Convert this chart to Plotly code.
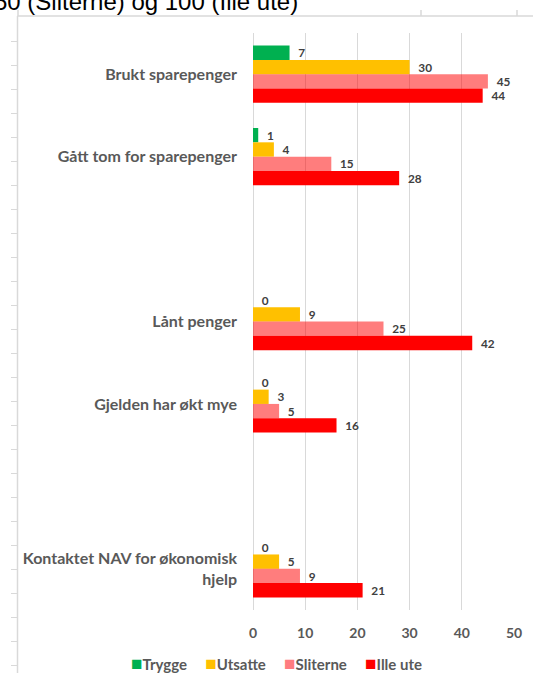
import plotly.graph_objects as go

categories = ["Brukt sparepenger", "Gått tom for sparepenger", " ", "Lånt penger",
              "Gjelden har økt mye", "  ", "Kontaktet NAV for økonomisk<br>hjelp"]
series_names = ["Trygge", "Utsatte", "Sliterne", "Ille ute"]
trygge = [7, 1, None, 0, 0, None, 0]
utsatte = [30, 4, None, 9, 3, None, 5]
sliterne = [45, 15, None, 25, 5, None, 9]
ille_ute = [44, 28, None, 42, 16, None, 21]
x_ticks = [0, 10, 20, 30, 40, 50]
colors = ["#00B050", "#FFC000", "rgba(255,0,0,0.51)", "#FF0000"]
legend_colors = ["#00B050", "#FFC000", "#FF7C80", "#FF0000"]

W, H = 533, 673
ML, MR, MT, MB = 253, 19, 33, 63
PW, PH = W - ML - MR, H - MT - MB


def px_x(px):
    return (px - ML) / PW


def px_y(py):
    return 1 - (py - MT) / PH


fig = go.Figure()
for name, vals, col in zip(series_names, [trygge, utsatte, sliterne, ille_ute], colors):
    fig.add_trace(go.Bar(
        y=categories, x=vals, name=name, orientation="h",
        marker=dict(color=col, line=dict(width=0)),
        text=vals, texttemplate="  %{x}", textposition="outside",
        textfont=dict(family="Lato", size=14, color="#404040", weight="bold"),
        cliponaxis=False, showlegend=False,
    ))

fig.update_layout(
    width=W, height=H, margin=dict(l=ML, r=MR, t=MT, b=MB),
    paper_bgcolor="white", plot_bgcolor="white",
    barmode="group", bargap=0.305, bargroupgap=0,
    font=dict(family="Lato", color="#595959"),
    xaxis=dict(range=[0, 50], tickvals=x_ticks, showgrid=True, gridcolor="#D9D9D9",
               gridwidth=1, zeroline=True, zerolinecolor="#D9D9D9", zerolinewidth=1,
               showline=False, ticks="", ticklabelstandoff=13,
               tickfont=dict(family="Lato", size=14, color="#595959", weight="bold")),
    yaxis=dict(categoryorder="array", categoryarray=categories, autorange="reversed",
               showgrid=False, zeroline=False, showline=False, ticks="",
               ticklabelstandoff=15,
               tickfont=dict(family="Lato", size=16, color="#595959", weight="bold")),
)

# decorative frame (sheet edge) lines
shapes = []
fx = 17.5
shapes.append(dict(type="line", xref="paper", yref="paper",
                   x0=px_x(fx), x1=px_x(W + 2), y0=px_y(16), y1=px_y(16),
                   line=dict(color="#D9D9D9", width=1.5)))
shapes.append(dict(type="line", xref="paper", yref="paper",
                   x0=px_x(fx), x1=px_x(fx), y0=px_y(H + 2), y1=px_y(16),
                   line=dict(color="#D9D9D9", width=1.5)))
for k in range(27):
    py = 41.5 + 24 * k
    shapes.append(dict(type="line", xref="paper", yref="paper",
                       x0=px_x(11), x1=px_x(fx), y0=px_y(py), y1=px_y(py),
                       line=dict(color="#D9D9D9", width=1)))
for pxv in [18, 421, 517]:
    shapes.append(dict(type="line", xref="paper", yref="paper",
                       x0=px_x(pxv), x1=px_x(pxv), y0=px_y(10), y1=px_y(16),
                       line=dict(color="#D9D9D9", width=1.5)))
fig.update_layout(shapes=shapes)

# cut-off heading text
fig.add_annotation(text="50 (Sliterne) og 100 (Ille ute)", xref="paper", yref="paper",
                   x=px_x(-8), xanchor="left", y=px_y(1), yanchor="middle",
                   showarrow=False, font=dict(family="Liberation Sans", size=24, color="#000000"))

# legend
parts = []
for name, col in zip(series_names, legend_colors):
    parts.append(f"<span style='color:{col};font-size:19px'>■</span>{name}")
fig.add_annotation(text="&nbsp;&nbsp;&nbsp;&nbsp;&nbsp;".join(parts), xref="paper", yref="paper",
                   x=px_x(276), xanchor="center", y=px_y(662), yanchor="middle",
                   showarrow=False, font=dict(family="Lato", size=15, color="#595959", weight="bold"))

fig.write_html("out.html", config={"displayModeBar": False},
               post_script="document.body.style.margin='0';document.documentElement.style.overflow='hidden';")
